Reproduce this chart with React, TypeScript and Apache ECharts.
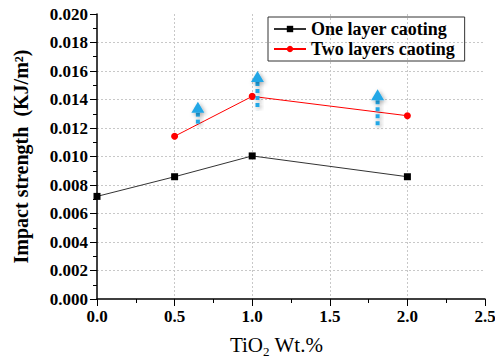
import React, { useEffect, useRef } from "react";
import * as echarts from "echarts";

const xOne = [0, 0.5, 1.0, 2.0];
const yOne = [0.0072, 0.00858, 0.01004, 0.00858];
const xTwo = [0.5, 1.0, 2.0];
const yTwo = [0.01142, 0.01422, 0.01286];
// arrows: x position, tip value, tail value
const arrowX = [0.65, 1.034, 1.808];
const arrowTip = [0.01385, 0.016, 0.01472];
const arrowTail = [0.01221, 0.01326, 0.012];

const serif = "Liberation Serif";

export default function App() {
  const ref = useRef<HTMLDivElement>(null);
  useEffect(() => {
    const chart = echarts.init(ref.current!, null, { renderer: "svg" });
    const arrowBlue = "#22a7e6";
    chart.setOption({
      animation: false,
      backgroundColor: "#ffffff",
      grid: { left: 97, right: 10, top: 14, bottom: 63, containLabel: false, outerBoundsMode: "none" },
      legend: {
        orient: "vertical",
        left: 268,
        top: 17,
        borderColor: "#333",
        borderWidth: 1,
        padding: [3, 10, 3, 5],
        itemGap: 2,
        itemWidth: 32,
        itemHeight: 8,
        textStyle: { fontFamily: serif, fontWeight: "bold", fontSize: 18, color: "#000" },
        data: ["One layer caoting", "Two layers caoting"],
      },
      xAxis: {
        type: "value",
        min: 0,
        max: 2.5,
        interval: 0.5,
        name: "{a|TiO}{s|2}{a| Wt.%}",
        nameLocation: "middle",
        nameGap: 34,
        nameTextStyle: {
          padding: [0, 29, 0, 0],
          rich: {
            a: { fontFamily: serif, fontSize: 21, color: "#000", lineHeight: 24 },
            s: { fontFamily: serif, fontSize: 13, color: "#000", lineHeight: 24, padding: [12, 0, 0, 0] },
          },
        },
        axisLine: { lineStyle: { color: "#000", width: 1.5 } },
        axisTick: { show: true, inside: false, length: 7, lineStyle: { color: "#000", width: 1 } },
        minorTick: { show: true, splitNumber: 2, length: 4, lineStyle: { color: "#000", width: 1 } },
        axisLabel: {
          fontFamily: serif,
          fontWeight: "bold",
          fontSize: 17,
          color: "#000",
          margin: 9,
          formatter: (v: number) => v.toFixed(1),
        },
        splitLine: {
          show: true,
          showMinLine: false,
          showMaxLine: false,
          lineStyle: { color: "#c8c8c8", type: [2, 2], width: 1 },
        },
      },
      yAxis: {
        type: "value",
        min: 0,
        max: 0.02,
        interval: 0.002,
        name: "Impact strength  (KJ/m²)",
        nameLocation: "middle",
        nameGap: 66,
        nameTextStyle: { fontFamily: serif, fontWeight: "bold", fontSize: 20, color: "#000" },
        axisLine: { show: true, lineStyle: { color: "#000", width: 1.5 } },
        axisTick: { show: true, inside: false, length: 7, lineStyle: { color: "#000", width: 1 } },
        minorTick: { show: true, splitNumber: 2, length: 4, lineStyle: { color: "#000", width: 1 } },
        axisLabel: {
          fontFamily: serif,
          fontWeight: "bold",
          fontSize: 17,
          color: "#000",
          margin: 9,
          formatter: (v: number) => v.toFixed(3),
        },
        splitLine: {
          show: true,
          showMinLine: false,
          showMaxLine: false,
          lineStyle: { color: "#c8c8c8", type: [2, 2], width: 1 },
        },
      },
      series: [
        {
          name: "One layer caoting",
          type: "line",
          data: xOne.map((x, i) => [x, yOne[i]]),
          symbol: "rect",
          symbolSize: 7,
          itemStyle: { color: "#000" },
          lineStyle: { color: "#333", width: 1 },
          z: 3,
        },
        {
          name: "Two layers caoting",
          type: "line",
          data: xTwo.map((x, i) => [x, yTwo[i]]),
          symbol: "circle",
          symbolSize: 7,
          itemStyle: { color: "#ff0000" },
          lineStyle: { color: "#ff0000", width: 1 },
          z: 3,
        },
        {
          type: "custom",
          name: "arrows",
          z: 4,
          clip: false,
          data: arrowX.map((x, i) => [x, arrowTip[i], arrowTail[i]]),
          renderItem: (params: any, api: any) => {
            const tip = api.coord([api.value(0), api.value(1)]);
            const tail = api.coord([api.value(0), api.value(2)]);
            const headH = 11;
            const headW = 13;
            const shadow = {
              shadowBlur: 4,
              shadowColor: "rgba(0,0,0,0.35)",
              shadowOffsetX: 1.5,
              shadowOffsetY: 1.5,
            };
            const children: any[] = [];
            let y = tip[1] + headH;
            while (y < tail[1]) {
              const h = Math.min(4, tail[1] - y);
              children.push({
                type: "rect",
                shape: { x: tip[0] - 2, y, width: 4, height: h },
                style: { fill: arrowBlue, ...shadow },
              });
              y += 7;
            }
            children.push({
              type: "polygon",
              shape: {
                points: [
                  [tip[0], tip[1]],
                  [tip[0] + headW / 2, tip[1] + headH],
                  [tip[0] - headW / 2, tip[1] + headH],
                ],
              },
              style: { fill: arrowBlue, ...shadow },
            });
            return { type: "group", children };
          },
        },
      ],
    });
    return () => chart.dispose();
  }, []);
  return <div ref={ref} style={{ width: 495, height: 362, position: "absolute", left: 0, top: 0 }} />;
}
